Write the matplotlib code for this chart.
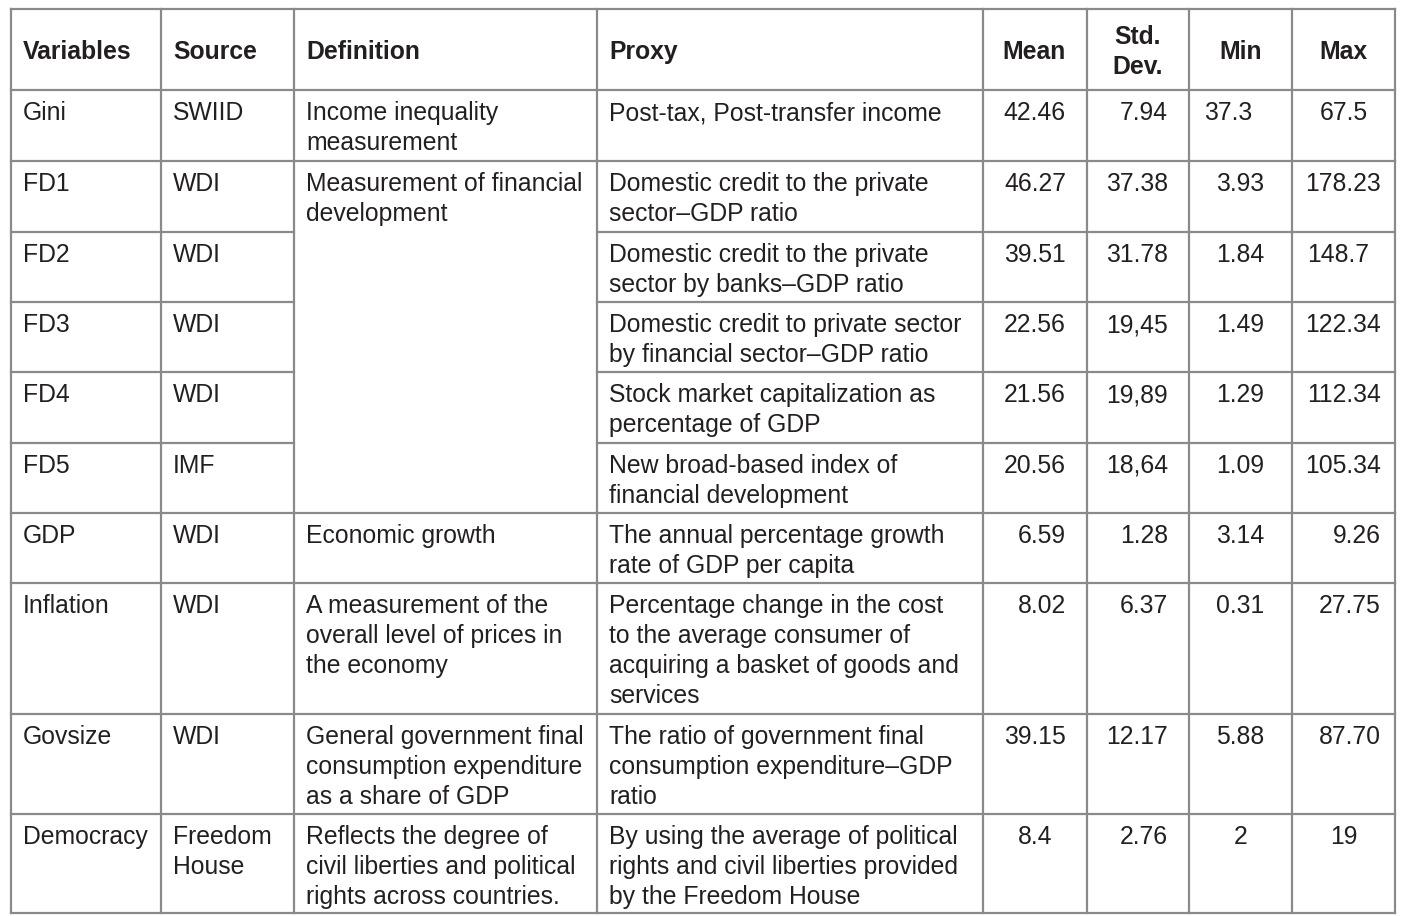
import matplotlib
matplotlib.use("Agg")
import matplotlib.pyplot as plt

# ---------------- data ----------------
headers = ["Variables", "Source", "Definition", "Proxy", "Mean", "Std.\nDev.", "Min", "Max"]

variables = ["Gini", "FD1", "FD2", "FD3", "FD4", "FD5", "GDP", "Inflation", "Govsize", "Democracy"]
sources = ["SWIID", "WDI", "WDI", "WDI", "WDI", "IMF", "WDI", "WDI", "WDI", "Freedom\nHouse"]
definitions = [
    "Income inequality\nmeasurement",
    "Measurement of financial\ndevelopment",
    None, None, None, None,
    "Economic growth",
    "A measurement of the\noverall level of prices in\nthe economy",
    "General government final\nconsumption expenditure\nas a share of GDP",
    "Reflects the degree of\ncivil liberties and political\nrights across countries.",
]
proxies = [
    "Post-tax, Post-transfer income",
    "Domestic credit to the private\nsector\u2013GDP ratio",
    "Domestic credit to the private\nsector by banks\u2013GDP ratio",
    "Domestic credit to private sector\nby financial sector\u2013GDP ratio",
    "Stock market capitalization as\npercentage of GDP",
    "New broad-based index of\nfinancial development",
    "The annual percentage growth\nrate of GDP per capita",
    "Percentage change in the cost\nto the average consumer of\nacquiring a basket of goods and\nservices",
    "The ratio of government final\nconsumption expenditure\u2013GDP\nratio",
    "By using the average of political\nrights and civil liberties provided\nby the Freedom House",
]
means = ["42.46", "46.27", "39.51", "22.56", "21.56", "20.56", "6.59", "8.02", "39.15", "8.4"]
stds = ["7.94", "37.38", "31.78", "19,45", "19,89", "18,64", "1.28", "6.37", "12.17", "2.76"]
mins = ["37.3", "3.93", "1.84", "1.49", "1.29", "1.09", "3.14", "0.31", "5.88", "2"]
maxs = ["67.5", "178.23", "148.7", "122.34", "112.34", "105.34", "9.26", "27.75", "87.70", "19"]

# ---------------- layout / style ----------------
W, H = 1415, 916
cols_x = [11, 161, 294, 597, 983, 1087, 1189, 1292, 1395]
rows_y = [9, 90, 161, 232, 302, 372, 443, 513, 583, 714, 814, 913]
line_color = "#8a8a8a"
text_color = "#231f20"
fs = 17.8
font = "Liberation Sans"
line_h = 30
first_base = 30
pad_l = 12

# alignment of numeric cells (style)
mean_al = ["r"] * 9 + ["c"]
std_al = ["r"] * 10
min_al = ["l"] + ["c"] * 9
max_al = ["c", "r", "l", "r", "r", "r", "r", "r", "r", "c"]

fig = plt.figure(figsize=(W / 100, H / 100), dpi=100)
ax = fig.add_axes([0, 0, 1, 1])
ax.set_xlim(0, W)
ax.set_ylim(H, 0)
ax.axis("off")

lw = 1.6
# vertical lines
for x in cols_x:
    ax.plot([x, x], [rows_y[0], rows_y[-1]], color=line_color, lw=lw, solid_capstyle="projecting")
# horizontal lines (merged definition cell for FD1..FD5)
for i, y in enumerate(rows_y):
    if 3 <= i <= 6:
        ax.plot([cols_x[0], cols_x[2]], [y, y], color=line_color, lw=lw)
        ax.plot([cols_x[3], cols_x[-1]], [y, y], color=line_color, lw=lw)
    else:
        ax.plot([cols_x[0], cols_x[-1]], [y, y], color=line_color, lw=lw, solid_capstyle="projecting")

def draw_lines(x, top, text, ha="left", weight="normal"):
    for k, ln in enumerate(text.split("\n")):
        ax.text(x, top + first_base + k * line_h, ln, ha=ha, va="baseline",
                fontsize=fs, family=font, color=text_color, weight=weight)

# header
hy_c = (rows_y[0] + rows_y[1]) / 2
for j, h in enumerate(headers):
    lines = h.split("\n")
    n = len(lines)
    if j < 4:
        x, ha = cols_x[j] + pad_l, "left"
    elif j == 4:
        x, ha = cols_x[j + 1] - 21, "right"
    else:
        x, ha = (cols_x[j] + cols_x[j + 1]) / 2, "center"
    for k, ln in enumerate(lines):
        y = hy_c + (k - (n - 1) / 2) * line_h
        ax.text(x, y, ln, ha=ha, va="center_baseline", fontsize=fs, family=font,
                color=text_color, weight="bold")

def num_x(col, al):
    left, right = cols_x[col], cols_x[col + 1]
    if al == "r":
        off = 14 if col == 7 else 21
        return right - off, "right"
    if al == "l":
        off = 15
        return left + off, "left"
    return (left + right) / 2, "center"

for i in range(len(variables)):
    top = rows_y[i + 1]
    draw_lines(cols_x[0] + pad_l, top, variables[i])
    draw_lines(cols_x[1] + pad_l, top, sources[i])
    if definitions[i] is not None:
        draw_lines(cols_x[2] + pad_l, top, definitions[i])
    draw_lines(cols_x[3] + pad_l, top, proxies[i])
    for col, vals, als in [(4, means, mean_al), (5, stds, std_al), (6, mins, min_al), (7, maxs, max_al)]:
        x, ha = num_x(col, als[i])
        draw_lines(x, top, vals[i], ha=ha)

fig.savefig("out.png", dpi=100, facecolor="white")
